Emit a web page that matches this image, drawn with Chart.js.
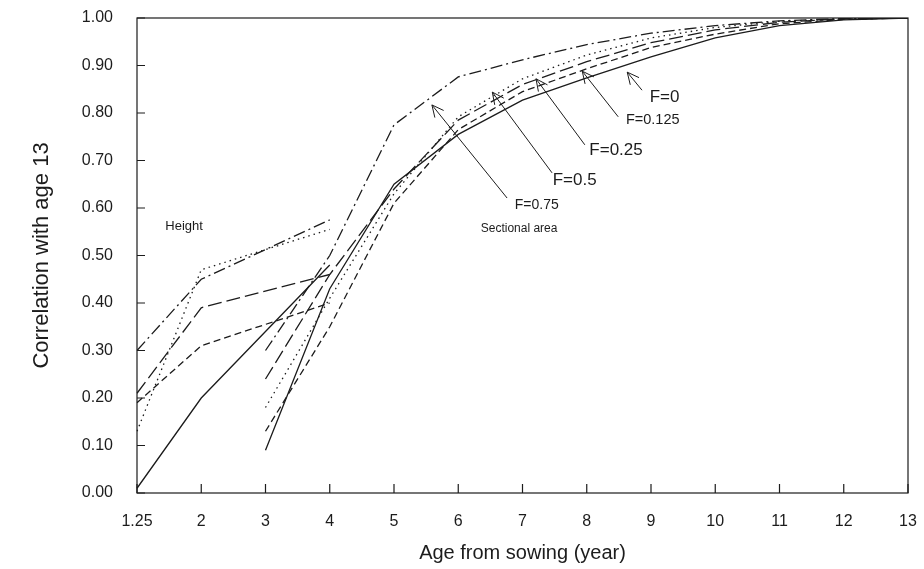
<!DOCTYPE html>
<html lang="en">
<head>
    <meta charset="UTF-8">
    <title>Correlation with age 13</title>
    <script src="https://cdn.jsdelivr.net/npm/chart.js"></script>
    <style>
        body { margin: 0; background: #fff; }
    </style>
</head>
<body>
    <canvas id="corrChart" width="924" height="569"></canvas>

    <script>
        // === data ===
        const ageLabels = ["1.25", "2", "3", "4", "5", "6", "7", "8", "9", "10", "11", "12", "13"];

        // height, measured at 1.25, 2 and 4 years
        const heightF0    = [0.01, 0.20, null, 0.48];
        const heightF0125 = [0.19, 0.31, null, 0.40];
        const heightF025  = [0.21, 0.39, null, 0.46];
        const heightF05   = [0.13, 0.47, null, 0.555];
        const heightF075  = [0.30, 0.45, null, 0.575];

        // sectional area, from 3 to 13 years
        const areaF0    = [null, null, 0.09, 0.43, 0.65, 0.755, 0.827, 0.874, 0.918, 0.958, 0.984, 0.996, 1.00];
        const areaF0125 = [null, null, 0.13, 0.35, 0.61, 0.765, 0.845, 0.893, 0.938, 0.966, 0.988, 0.997, 1.00];
        const areaF025  = [null, null, 0.24, 0.46, 0.64, 0.785, 0.860, 0.908, 0.948, 0.975, 0.991, 0.998, 1.00];
        const areaF05   = [null, null, 0.18, 0.41, 0.63, 0.792, 0.872, 0.922, 0.958, 0.980, 0.993, 0.998, 1.00];
        const areaF075  = [null, null, 0.30, 0.50, 0.775, 0.876, 0.912, 0.944, 0.968, 0.984, 0.994, 0.999, 1.00];

        const yTicks = [0, 0.1, 0.2, 0.3, 0.4, 0.5, 0.6, 0.7, 0.8, 0.9, 1.0];

        // text and arrows drawn on the plot (x in axis steps, y in correlation)
        const notes = [
            { text: "Height", x: 0.44, y: 0.562, size: 13 },
            { text: "Sectional area", x: 5.35, y: 0.556, size: 12 },
            { text: "F=0.75", x: 5.88, y: 0.606, size: 14, from: [5.76, 0.621], to: [4.59, 0.817] },
            { text: "F=0.5", x: 6.47, y: 0.659, size: 17, from: [6.46, 0.674], to: [5.53, 0.844] },
            { text: "F=0.25", x: 7.04, y: 0.722, size: 17, from: [6.97, 0.733], to: [6.21, 0.872] },
            { text: "F=0.125", x: 7.61, y: 0.785, size: 14.5, from: [7.49, 0.792], to: [6.93, 0.888] },
            { text: "F=0", x: 7.98, y: 0.832, size: 17, from: [7.86, 0.848], to: [7.63, 0.886] }
        ];

        const ink = "#1c1c1c";
        const styles = {
            f0: [],
            f0125: [7, 4],
            f025: [14, 5],
            f05: [1.5, 4],
            f075: [12, 4, 2, 4]
        };

        function line(data, dash) {
            return {
                data: data,
                borderColor: ink,
                borderWidth: 1.3,
                borderDash: dash,
                pointRadius: 0,
                tension: 0,
                spanGaps: true,
                fill: false
            };
        }

        // frame, inward ticks and the notes
        const decor = {
            id: "decor",
            afterDraw(chart) {
                const ctx = chart.ctx;
                const a = chart.chartArea;
                const xs = chart.scales.x, ys = chart.scales.y;
                ctx.save();
                ctx.strokeStyle = ink;
                ctx.lineWidth = 1.2;
                ctx.setLineDash([]);
                ctx.strokeRect(a.left, a.top, a.right - a.left, a.bottom - a.top);

                ctx.beginPath();
                ageLabels.forEach((lab, i) => {
                    const px = xs.getPixelForValue(i);
                    ctx.moveTo(px, a.bottom);
                    ctx.lineTo(px, a.bottom - 9);
                });
                yTicks.forEach(v => {
                    const py = ys.getPixelForValue(v);
                    ctx.moveTo(a.left, py);
                    ctx.lineTo(a.left + 8, py);
                });
                ctx.stroke();

                ctx.fillStyle = ink;
                ctx.textBaseline = "middle";
                ctx.textAlign = "left";
                ctx.lineWidth = 1;
                notes.forEach(n => {
                    ctx.font = n.size + "px 'Liberation Sans', Arial, sans-serif";
                    ctx.fillText(n.text, xs.getPixelForValue(n.x), ys.getPixelForValue(n.y));
                    if (n.from) {
                        const x1 = xs.getPixelForValue(n.from[0]), y1 = ys.getPixelForValue(n.from[1]);
                        const x2 = xs.getPixelForValue(n.to[0]), y2 = ys.getPixelForValue(n.to[1]);
                        const ang = Math.atan2(y2 - y1, x2 - x1);
                        ctx.beginPath();
                        ctx.moveTo(x1, y1);
                        ctx.lineTo(x2, y2);
                        [0.45, -0.45].forEach(d => {
                            ctx.moveTo(x2, y2);
                            ctx.lineTo(x2 - 13 * Math.cos(ang + d), y2 - 13 * Math.sin(ang + d));
                        });
                        ctx.stroke();
                    }
                });
                ctx.restore();
            }
        };

        const font = { family: "'Liberation Sans', Arial, sans-serif", size: 16 };

        new Chart(document.getElementById("corrChart"), {
            type: "line",
            data: {
                labels: ageLabels,
                datasets: [
                    line(heightF0, styles.f0),
                    line(heightF0125, styles.f0125),
                    line(heightF025, styles.f025),
                    line(heightF05, styles.f05),
                    line(heightF075, styles.f075),
                    line(areaF0, styles.f0),
                    line(areaF0125, styles.f0125),
                    line(areaF025, styles.f025),
                    line(areaF05, styles.f05),
                    line(areaF075, styles.f075)
                ]
            },
            options: {
                responsive: false,
                animation: false,
                devicePixelRatio: 1,
                layout: { padding: { top: 18, right: 16, bottom: 0, left: 0 } },
                plugins: {
                    legend: { display: false },
                    tooltip: { enabled: false }
                },
                scales: {
                    x: {
                        type: "category",
                        offset: false,
                        grid: { display: false, drawTicks: false },
                        border: { display: false },
                        ticks: { color: ink, font: font, padding: 19, maxRotation: 0, autoSkip: false },
                        title: {
                            display: true,
                            text: "Age from sowing (year)",
                            color: ink,
                            font: { family: font.family, size: 20 },
                            padding: { bottom: 4 }
                        },
                        afterFit(scale) {
                            scale.height = 76;
                            scale.paddingLeft = 0;
                            scale.paddingRight = 0;
                        }
                    },
                    y: {
                        min: 0,
                        max: 1,
                        grid: { display: false, drawTicks: false },
                        border: { display: false },
                        ticks: {
                            color: ink,
                            font: font,
                            padding: 24,
                            stepSize: 0.1,
                            callback: v => v.toFixed(2)
                        },
                        title: {
                            display: true,
                            text: "Correlation with age 13",
                            color: ink,
                            font: { family: font.family, size: 22 },
                            padding: { top: 29 }
                        },
                        afterFit(scale) {
                            scale.width = 137;
                            scale.paddingTop = 0;
                            scale.paddingBottom = 0;
                        }
                    }
                }
            },
            plugins: [decor]
        });
    </script>
</body>
</html>
